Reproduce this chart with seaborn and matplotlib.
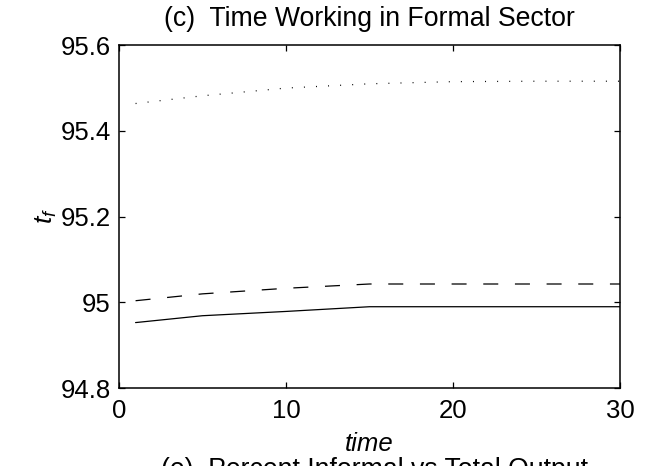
import matplotlib
matplotlib.use("Agg")
import matplotlib.pyplot as plt
import seaborn as sns
import pandas as pd

# Simulated paths of formal-sector working time
time = [1, 5, 10, 15, 20, 25, 30]
tf_baseline = [94.953, 94.969, 94.979, 94.990, 94.990, 94.990, 94.990]
tf_dashed = [95.004, 95.020, 95.033, 95.043, 95.043, 95.043, 95.043]
tf_dotted = [95.464, 95.482, 95.500, 95.510, 95.515, 95.516, 95.516]

x_ticks = [0, 10, 20, 30]
y_ticks = [94.8, 95.0, 95.2, 95.4, 95.6]
y_tick_labels = ["94.8", "95", "95.2", "95.4", "95.6"]

sns.set_style("white")
plt.rcParams["font.family"] = ["Liberation Sans", "DejaVu Sans"]
plt.rcParams["text.color"] = "black"
plt.rcParams["axes.labelcolor"] = "black"
plt.rcParams["lines.scale_dashes"] = False
plt.rcParams["mathtext.fontset"] = "custom"
plt.rcParams["mathtext.it"] = "Liberation Sans:italic"
plt.rcParams["mathtext.rm"] = "Liberation Sans"

fig = plt.figure(figsize=(6.46, 4.66), dpi=100)
ax = fig.add_axes([0.184, 0.167, 0.776, 0.736])

df = pd.DataFrame({"time": time, "solid": tf_baseline,
                   "dashed": tf_dashed, "dotted": tf_dotted})

sns.lineplot(data=df, x="time", y="solid", ax=ax, color="black", lw=0.9)
sns.lineplot(data=df, x="time", y="dashed", ax=ax, color="black", lw=0.9,
             linestyle=(0, (10.8, 12)))
sns.lineplot(data=df, x="time", y="dotted", ax=ax, color="black", lw=0.9,
             linestyle=(0, (0.7, 8)))

ax.set_xlim(0, 30)
ax.set_ylim(94.8, 95.6)
ax.set_xticks(x_ticks)
ax.set_yticks(y_ticks)
ax.set_yticklabels(y_tick_labels)
ax.tick_params(direction="in", length=4, width=0.9, labelsize=18.5, pad=8,
               top=True, right=True, bottom=True, left=True,
               colors="black", labelcolor="black")
ax.tick_params(axis="y", pad=5.8)
for s in ax.spines.values():
    s.set_visible(True)
    s.set_color("black")
    s.set_linewidth(1.1)

ax.set_title("(c)  Time Working in Formal Sector", fontsize=19.2, pad=14,
             color="black")
ax.set_xlabel("time", fontsize=18.5, style="italic", labelpad=6)
ax.set_ylabel("$t_f$", fontsize=19)
ax.yaxis.set_label_coords(-0.12, 0.503)

fig.text(0.58, 1 - 457 / 466, "(e)  Percent Informal vs Total Output",
         ha="center", va="top", fontsize=19.2)

fig.savefig("out.png", dpi=100, facecolor="white")
